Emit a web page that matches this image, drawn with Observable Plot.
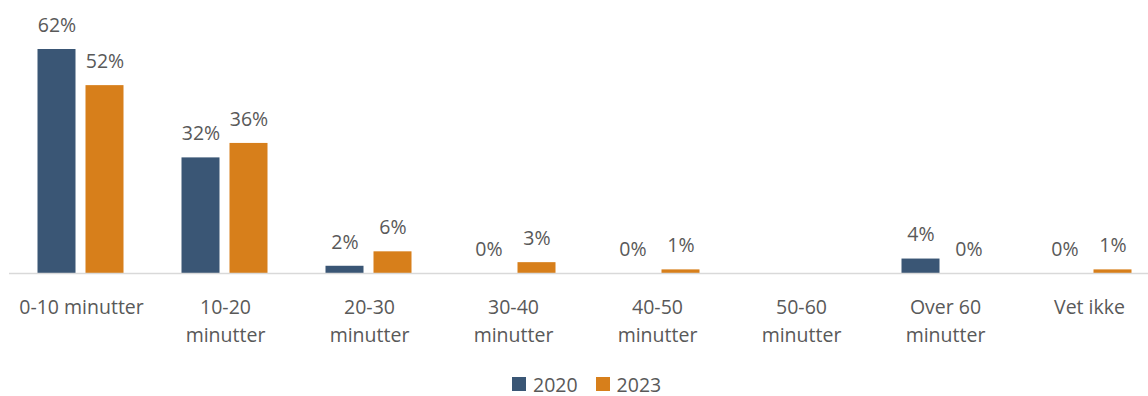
<!DOCTYPE html>
<html>
<head>
<meta charset="utf-8">
<script src="https://cdn.jsdelivr.net/npm/d3@7"></script>
<script src="https://cdn.jsdelivr.net/npm/@observablehq/plot@0.6"></script>
<style>
  html, body { margin: 0; padding: 0; background: #fff; overflow: hidden; }
  #legend { display: flex; align-items: center; height: 36px; padding-left: 512px;
    font-family: "Open Sans", sans-serif; font-size: 19.5px; color: #595959; }
  #legend .item { display: flex; align-items: center; margin-right: 18px; }
  #legend .sw { width: 14px; height: 14px; margin-right: 7px; }
</style>
</head>
<body>
<div id="chart"></div>
<div id="legend"></div>
<script>
const categories = ["0-10 minutter", "10-20 minutter", "20-30 minutter", "30-40 minutter",
  "40-50 minutter", "50-60 minutter", "Over 60 minutter", "Vet ikke"];
const tickLabels = ["0-10 minutter", "10-20\nminutter", "20-30\nminutter", "30-40\nminutter",
  "40-50\nminutter", "50-60\nminutter", "Over 60\nminutter", "Vet ikke"];
const series = ["2020", "2023"];
const values2020 = [62, 32, 2, 0, 0, null, 4, 0];
const values2023 = [52, 36, 6, 3, 1, null, 0, 1];
const colors = ["#3A5675", "#D77F1B"];

const data = [];
categories.forEach((c, i) => {
  [values2020, values2023].forEach((vals, j) => {
    data.push({cat: c, series: series[j], value: vals[i]});
  });
});

const chart = Plot.plot({
  width: 1148,
  height: 366,
  marginLeft: 8.5,
  marginRight: -12.5,
  marginTop: 49,
  marginBottom: 93,
  style: {fontFamily: "'Open Sans', sans-serif", background: "#fff"},
  fx: {domain: categories, padding: 0},
  x: {domain: series, paddingInner: 0.206, paddingOuter: 0.588, axis: null},
  y: {domain: [0, 62], axis: null},
  color: {domain: series, range: colors},
  marks: [
    Plot.barY(data, {fx: "cat", x: "series", y: "value", fill: "series"}),
    Plot.ruleY([0], {stroke: "#d9d9d9", strokeWidth: 1.5}),
    Plot.text(data, {fx: "cat", x: "series", y: "value",
      text: d => d.value == null ? null : d.value + "%",
      dy: -24, fill: "#595959", fontSize: 19.5}),
    Plot.axisFx({anchor: "bottom", tickSize: 0, tickPadding: 20, label: null,
      tickFormat: d => tickLabels[categories.indexOf(d)],
      fontSize: 19.5, lineHeight: 1.45, color: "#595959"})
  ]
});
document.getElementById("chart").appendChild(chart);

const legend = document.getElementById("legend");
series.forEach((s, i) => {
  const item = document.createElement("div");
  item.className = "item";
  item.innerHTML = `<div class="sw" style="background:${colors[i]}"></div><span>${s}</span>`;
  legend.appendChild(item);
});
</script>
</body>
</html>
